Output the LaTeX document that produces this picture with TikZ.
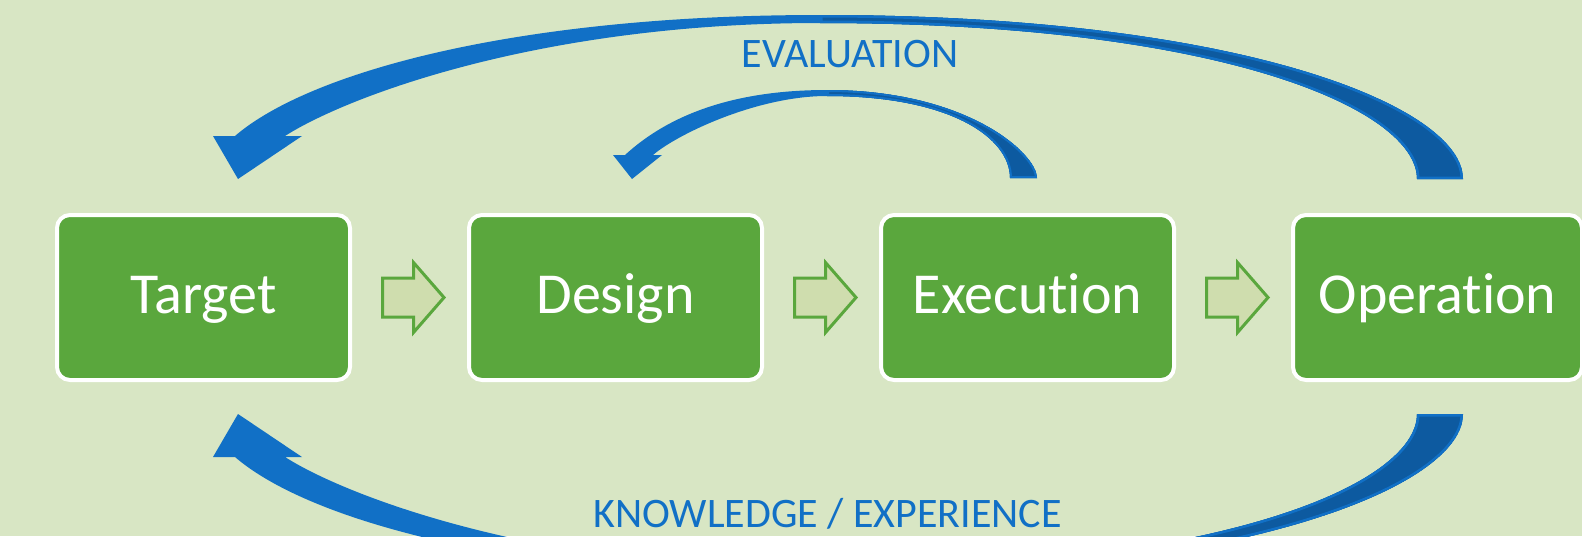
\documentclass[tikz,border=0pt]{standalone}
\usepackage{fontspec}
\setmainfont{Carlito}[Ligatures=NoCommon]
\definecolor{bg}{HTML}{D8E6C4}
\definecolor{boxgreen}{HTML}{5AA73D}
\definecolor{arrfill}{HTML}{CFDDAE}
\definecolor{ablue}{HTML}{1170C6}
\definecolor{dblue}{HTML}{0D5AA0}
\tikzset{
  stagebox/.style={draw=white, line width=4pt, fill=boxgreen, rounded corners=13pt,
    minimum width=293pt, minimum height=165pt, inner sep=0pt, text=white,
    font=\fontsize{58}{62}\selectfont, text height=32pt, text depth=0pt},
  steparrow/.style={draw=boxgreen, fill=arrfill, line width=3pt, line join=miter},
  looplabel/.style={text=ablue, font=\fontsize{42}{46}\selectfont, anchor=base, inner sep=0pt},
  loopfill/.style={fill=ablue},
  loopdark/.style={fill=dblue},
}
\newcommand\bigloopshape{(1463,179) .. controls (1463,107) and (1243,15) .. (820,15)
  .. controls (513,15) and (308,73) .. (235,136) -- (213,136) -- (238,179) -- (302,136)
  -- (285,136) .. controls (346,97) and (539,23) .. (820,23)
  .. controls (1224,23) and (1417,110) .. (1417,179) -- cycle}
\newcommand\bigloopback{(1463,179) .. controls (1463,107) and (1243,15) .. (820,15)
  -- (820,23) .. controls (1224,23) and (1417,110) .. (1417,179) -- cycle}
\newcommand\smallloopshape{(1037,178) .. controls (1037,154) and (968,90) .. (827,90)
  .. controls (721,90) and (661,122) .. (625,155) -- (613,155) -- (632,179) -- (662,155)
  -- (653,155) .. controls (676,135) and (756,96) .. (827,96)
  .. controls (951,96) and (1010,138) .. (1010,178) -- cycle}
\newcommand\smallloopback{(1037,178) .. controls (1037,154) and (968,90) .. (827,90)
  -- (827,96) .. controls (951,96) and (1010,138) .. (1010,178) -- cycle}
\begin{document}
\begin{tikzpicture}[x=1pt, y=-1pt]
  \useasboundingbox (0,0) rectangle (1582,536);
  \fill[bg] (0,0) rectangle (1582,536);

  % evaluation loop: Operation -> Target
  \fill[loopfill] \bigloopshape;
  \begin{scope}
    \clip \bigloopback;
    \fill[loopdark] \bigloopback;
    \draw[ablue, line width=5pt] \bigloopback;
  \end{scope}
  % evaluation loop: Execution -> Design
  \fill[loopfill] \smallloopshape;
  \begin{scope}
    \clip \smallloopback;
    \fill[loopdark] \smallloopback;
    \draw[ablue, line width=4pt] \smallloopback;
  \end{scope}
  % knowledge loop: Operation -> Target (mirror)
  \begin{scope}[shift={(0,593)}, yscale=-1]
    \fill[loopfill] \bigloopshape;
    \begin{scope}
      \clip \bigloopback;
      \fill[loopdark] \bigloopback;
      \draw[ablue, line width=5pt] \bigloopback;
    \end{scope}
  \end{scope}

  % stages
  \node[stagebox] (target) at (203.5,297.5) {Target};
  \node[stagebox] (design) at (615.5,297.5) {Design};
  \node[stagebox] (execution) at (1027.5,297.5) {Execution};
  \node[stagebox, minimum width=289pt] (operation) at (1437.5,297.5) {Operation};

  % step arrows
  \foreach \src in {target, design, execution} {
    \draw[steparrow, shift={(\src.east)}] (30.5,-19.5) -- (61.5,-19.5) -- (61.5,-35)
      -- (92,0) -- (61.5,35) -- (61.5,19.5) -- (30.5,19.5) -- cycle;
  }

  % labels
  \node[looplabel] (evaluation) at (850,67) {EVALUATION};
  \node[looplabel] (knowledge) at (827.5,527) {KNOWLEDGE / EXPERIENCE};
\end{tikzpicture}
\end{document}
